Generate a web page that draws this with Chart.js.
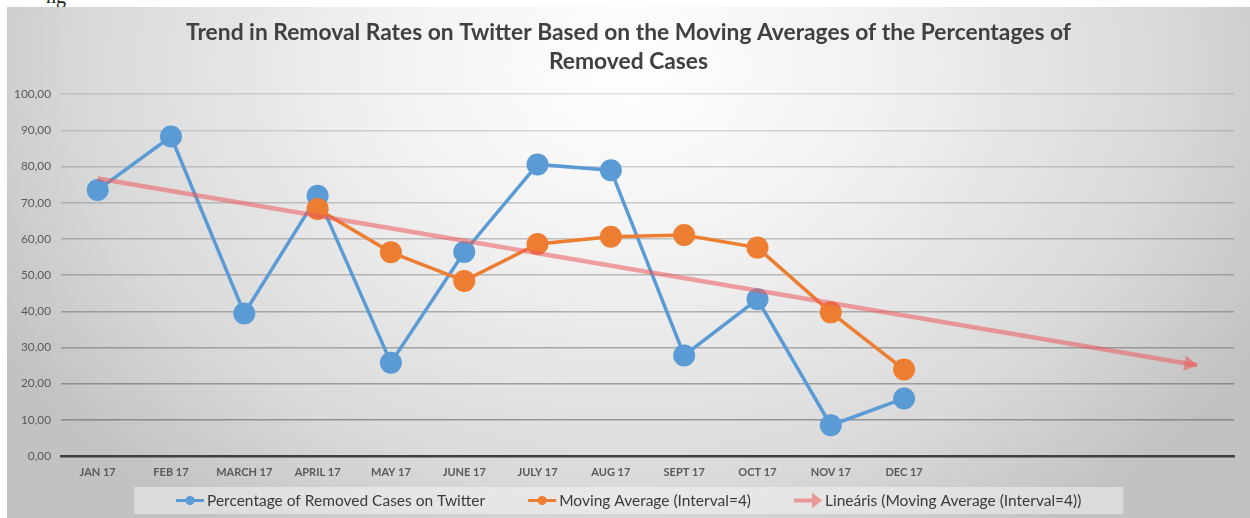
<!DOCTYPE html>
<html>
<head>
<meta charset="utf-8">
<script src="https://cdn.jsdelivr.net/npm/chart.js@4.4.0/dist/chart.umd.min.js"></script>
<style>
  body { margin: 0; width: 1250px; height: 518px; overflow: hidden; background: #fff; position: relative; }
  #frag { position: absolute; left: 46px; top: -15px; font: 20px "Liberation Serif", serif; color: #222; }
  #box {
    position: absolute; left: 7px; top: 7px; width: 1243px; height: 511px;
    background: radial-gradient(ellipse 58% 110% at 50% 12%, #ffffff 0%, #f1f1f1 35%, #d9d9d9 75%, #c2c2c2 100%);
  }
  canvas { display: block; }
</style>
</head>
<body>
<span id="frag">ng</span>
<div id="box"><canvas id="myChart" width="1243" height="511"></canvas></div>
<script>
// categories (last four are the empty forecast slots of the trendline)
const months = ['JAN 17', 'FEB 17', 'MARCH 17', 'APRIL 17', 'MAY 17', 'JUNE 17', 'JULY 17', 'AUG 17',
                'SEPT 17', 'OCT 17', 'NOV 17', 'DEC 17', '', '', '', ''];

const removedPct = [73.5, 88.3, 39.4, 71.9, 25.8, 56.4, 80.6, 79.0, 27.8, 43.3, 8.5, 15.9];
const movingAvg = [null, null, null, 68.3, 56.3, 48.4, 58.6, 60.6, 61.1, 57.6, 39.7, 23.9];
// linear trendline of the moving average, start and end
const trendLine = [76.7, null, null, null, null, null, null, null, null, null, null, null, null, null, null, 25.1];

const seriesNames = ['Percentage of Removed Cases on Twitter', 'Moving Average (Interval=4)',
                     'Lineáris (Moving Average (Interval=4))'];
const chartTitle = ['Trend in Removal Rates on Twitter Based on the Moving Averages of the Percentages of',
                    'Removed Cases'];

const blue = '#5b9bd5';
const orange = '#ed7d31';
const pink = 'rgba(235, 90, 90, 0.55)';

const fmt = v => v.toFixed(2).replace('.', ',');

// arrow head at the end of the trendline
const trendArrow = {
  id: 'trendArrow',
  afterDatasetsDraw(chart) {
    const meta = chart.getDatasetMeta(2);
    const pts = meta.data.filter((p, i) => trendLine[i] !== null);
    const a = pts[0], b = pts[pts.length - 1];
    const ang = Math.atan2(b.y - a.y, b.x - a.x);
    const ctx = chart.ctx;
    ctx.save();
    ctx.translate(b.x, b.y);
    ctx.rotate(ang);
    ctx.fillStyle = pink;
    ctx.beginPath();
    ctx.moveTo(0, 0);
    ctx.lineTo(-13, -8);
    ctx.lineTo(-13, 8);
    ctx.closePath();
    ctx.fill();
    ctx.restore();
  }
};

// legend with a light box behind it, like the Excel one
const boxLegend = {
  id: 'boxLegend',
  afterDraw(chart) {
    const ctx = chart.ctx;
    const sets = chart.data.datasets;
    const symW = 28, gapText = 3, gapItem = 43, pad = 42;
    const startX = 169, cy = 493.5;
    ctx.save();
    ctx.font = '15.5px Lato';
    let total = 0;
    sets.forEach((ds, i) => {
      total += symW + gapText + ctx.measureText(ds.label).width + (i ? gapItem : 0);
    });
    ctx.fillStyle = 'rgba(250, 250, 250, 0.45)';
    ctx.fillRect(startX - pad, 480, total + pad * 2, 27);

    let x = startX;
    sets.forEach((ds, i) => {
      ctx.strokeStyle = ds.borderColor;
      ctx.fillStyle = ds.borderColor;
      if (i < 2) {
        ctx.lineWidth = 3;
        ctx.beginPath();
        ctx.moveTo(x, cy);
        ctx.lineTo(x + symW, cy);
        ctx.stroke();
        ctx.beginPath();
        ctx.arc(x + symW / 2, cy, 4.5, 0, Math.PI * 2);
        ctx.fill();
      } else {
        ctx.lineWidth = 4;
        ctx.beginPath();
        ctx.moveTo(x, cy);
        ctx.lineTo(x + symW - 10, cy);
        ctx.stroke();
        ctx.beginPath();
        ctx.moveTo(x + symW, cy);
        ctx.lineTo(x + symW - 10, cy - 8);
        ctx.lineTo(x + symW - 10, cy + 8);
        ctx.closePath();
        ctx.fill();
      }
      x += symW + gapText;
      ctx.fillStyle = '#3a3a3a';
      ctx.textBaseline = 'middle';
      ctx.fillText(ds.label, x, cy);
      x += ctx.measureText(ds.label).width + gapItem;
    });
    ctx.restore();
  }
};

const ctx = document.getElementById('myChart').getContext('2d');
const myChart = new Chart(ctx, {
  type: 'line',
  data: {
    labels: months,
    datasets: [
      {
        label: seriesNames[0],
        data: removedPct,
        borderColor: blue,
        backgroundColor: blue,
        borderWidth: 3.5,
        pointRadius: 11,
        pointBorderWidth: 0,
        tension: 0,
        order: 3
      },
      {
        label: seriesNames[1],
        data: movingAvg,
        borderColor: orange,
        backgroundColor: orange,
        borderWidth: 3.5,
        pointRadius: 11,
        pointBorderWidth: 0,
        tension: 0,
        order: 2
      },
      {
        label: seriesNames[2],
        data: trendLine,
        borderColor: pink,
        backgroundColor: pink,
        borderWidth: 4.5,
        pointRadius: 0,
        spanGaps: true,
        order: 1
      }
    ]
  },
  options: {
    responsive: false,
    animation: false,
    devicePixelRatio: 1,
    layout: { padding: { left: 8, right: 8, top: 0, bottom: 30 } },
    plugins: {
      legend: { display: false },
      tooltip: { enabled: false },
      title: {
        display: true,
        text: chartTitle,
        color: '#404040',
        font: { family: 'Lato', size: 22.8, weight: 'bold', lineHeight: 1.27 },
        padding: { top: 11.5, bottom: 17.8 }
      }
    },
    scales: {
      x: {
        offset: true,
        grid: { display: false, drawTicks: false },
        border: { color: '#3f3f3f', width: 2.5 },
        ticks: {
          color: '#595959',
          font: { family: 'Lato', size: 11, weight: 'bold' },
          padding: 10,
          maxRotation: 0,
          autoSkip: false
        },
        afterFit: s => { s.height = 32; }
      },
      y: {
        min: 0,
        max: 100,
        border: { display: false },
        grid: {
          drawTicks: false,
          lineWidth: 1.5,
          color: c => 'rgba(60, 60, 60, ' + (0.15 + 0.32 * (1 - c.tick.value / 100)).toFixed(3) + ')'
        },
        ticks: {
          stepSize: 10,
          color: '#595959',
          font: { family: 'Lato', size: 11.8 },
          padding: 10,
          callback: v => fmt(v)
        },
        afterFit: s => { s.width = 46; }
      },
      // empty right-hand strip so the plot stops where Excel's does
      yRight: {
        position: 'right',
        display: true,
        grid: { display: false },
        border: { display: false },
        ticks: { display: false },
        afterFit: s => { s.width = 8; }
      }
    }
  },
  plugins: [trendArrow, boxLegend]
});
</script>
</body>
</html>
